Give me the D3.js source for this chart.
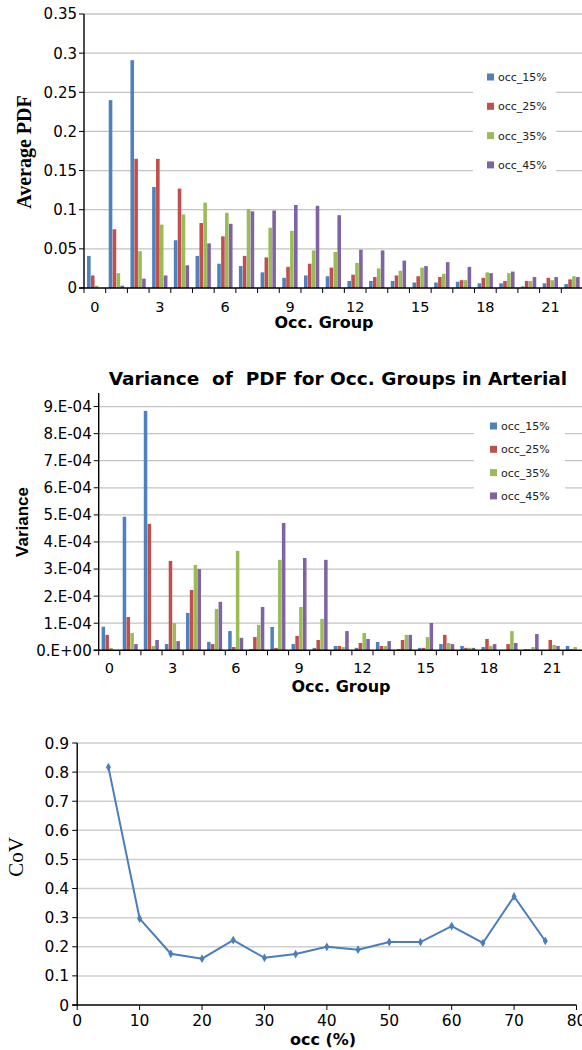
<!DOCTYPE html>
<html><head><meta charset="utf-8">
<script src="https://cdn.jsdelivr.net/npm/d3@7/dist/d3.min.js"></script>
<style>body{margin:0;background:#fff}svg{display:block}</style>
</head><body>
<svg id="c" width="582" height="1050"></svg>
<script>
// ---------- DATA ----------
const categories = [0,1,2,3,4,5,6,7,8,9,10,11,12,13,14,15,16,17,18,19,20,21,22];
const xTickCats = [0,3,6,9,12,15,18,21];
const seriesNames = ["occ_15%","occ_25%","occ_35%","occ_45%"];
const seriesColors = ["#4f81bd","#c0504d","#9bbb59","#8064a2"];

// Chart 1: Average PDF
const pdf15 = [0.041,0.240,0.291,0.129,0.061,0.041,0.031,0.028,0.020,0.013,0.016,0.015,0.009,0.009,0.009,0.007,0.007,0.008,0.006,0.006,0.002,0.006,0.005];
const pdf25 = [0.016,0.075,0.165,0.165,0.127,0.083,0.066,0.041,0.039,0.027,0.031,0.026,0.017,0.014,0.016,0.015,0.014,0.010,0.013,0.009,0.009,0.013,0.011];
const pdf35 = [0.003,0.019,0.047,0.081,0.094,0.109,0.096,0.101,0.077,0.073,0.048,0.046,0.032,0.025,0.022,0.026,0.018,0.010,0.020,0.019,0.009,0.010,0.015];
const pdf45 = [0.000,0.003,0.012,0.016,0.029,0.057,0.082,0.098,0.099,0.106,0.105,0.093,0.049,0.048,0.035,0.028,0.033,0.027,0.019,0.021,0.014,0.014,0.014];
const pdfTicks = [0,0.05,0.1,0.15,0.2,0.25,0.3,0.35];
const pdfTickLabels = ["0","0.05","0.1","0.15","0.2","0.25","0.3","0.35"];

// Chart 2: Variance of PDF
const var15 = [0.87e-4,4.93e-4,8.84e-4,0.23e-4,1.38e-4,0.31e-4,0.71e-4,0.05e-4,0.86e-4,0.23e-4,0.09e-4,0.16e-4,0.09e-4,0.31e-4,0.05e-4,0.09e-4,0.23e-4,0.16e-4,0.12e-4,0.00e-4,0.04e-4,0.00e-4,0.16e-4];
const var25 = [0.57e-4,1.23e-4,4.67e-4,3.30e-4,2.23e-4,0.23e-4,0.12e-4,0.49e-4,0.09e-4,0.53e-4,0.38e-4,0.16e-4,0.27e-4,0.16e-4,0.38e-4,0.09e-4,0.57e-4,0.09e-4,0.42e-4,0.23e-4,0.04e-4,0.38e-4,0.05e-4];
const var35 = [0.09e-4,0.64e-4,0.16e-4,1.00e-4,3.15e-4,1.53e-4,3.67e-4,0.94e-4,3.34e-4,1.60e-4,1.16e-4,0.12e-4,0.64e-4,0.16e-4,0.57e-4,0.49e-4,0.27e-4,0.09e-4,0.16e-4,0.71e-4,0.12e-4,0.20e-4,0.12e-4];
const var45 = [0.00e-4,0.23e-4,0.38e-4,0.34e-4,3.00e-4,1.79e-4,0.46e-4,1.60e-4,4.70e-4,3.41e-4,3.34e-4,0.71e-4,0.42e-4,0.34e-4,0.57e-4,1.01e-4,0.23e-4,0.09e-4,0.23e-4,0.27e-4,0.60e-4,0.16e-4,0.00e-4];
const varTicks = [0,1e-4,2e-4,3e-4,4e-4,5e-4,6e-4,7e-4,8e-4,9e-4];
const varTickLabels = ["0.E+00","1.E-04","2.E-04","3.E-04","4.E-04","5.E-04","6.E-04","7.E-04","8.E-04","9.E-04"];

// Chart 3: CoV
const occ = [5,10,15,20,25,30,35,40,45,50,55,60,65,70,75];
const cov = [0.817,0.297,0.176,0.159,0.223,0.162,0.175,0.200,0.190,0.216,0.216,0.271,0.213,0.373,0.220];
const covTicks = [0,0.1,0.2,0.3,0.4,0.5,0.6,0.7,0.8,0.9];
const covTickLabels = ["0","0.1","0.2","0.3","0.4","0.5","0.6","0.7","0.8","0.9"];
const occTicks = [0,10,20,30,40,50,60,70,80];

// ---------- DRAW ----------
const svg = d3.select("#c");
const GRID = "#c4c4c4";
const TICKFONT = "'DejaVu Sans', Verdana, sans-serif";

function barChart(o) {
  const g = svg.append("g");
  const y = d3.scaleLinear().domain(o.yDomain).range([o.bottom, o.top]);
  const x0 = d3.scaleBand().domain(categories).range([o.left, o.right]).padding(0);
  const x1 = d3.scaleBand().domain(seriesNames).range([0, x0.bandwidth()]).paddingInner(0).paddingOuter(o.barPad);
  g.append("g").selectAll("line").data(o.ticks.filter(t => t > 0)).join("line")
    .attr("x1", o.left).attr("x2", o.right).attr("y1", d => y(d)).attr("y2", d => y(d))
    .attr("stroke", GRID).attr("stroke-width", 1.3);
  g.append("rect").attr("x", o.legend.x).attr("y", o.legend.y).attr("width", o.legend.w).attr("height", o.legend.h).attr("fill", "#fff");
  const data = o.series;
  seriesNames.forEach((s, si) => {
    g.append("g").selectAll("rect").data(categories).join("rect")
      .attr("x", c => x0(c) + x1(s))
      .attr("width", x1.bandwidth() - 0.3)
      .attr("y", c => y(data[si][c]))
      .attr("height", c => y(0) - y(data[si][c]))
      .attr("fill", seriesColors[si]);
  });
  g.append("line").attr("x1", o.left).attr("x2", o.left).attr("y1", y(o.yDomain[1])).attr("y2", y(0)).attr("stroke", "#000").attr("stroke-width", 1.4);
  g.append("line").attr("x1", o.left - 5).attr("x2", o.right).attr("y1", y(0)).attr("y2", y(0)).attr("stroke", "#000").attr("stroke-width", 1.4);
  g.append("g").selectAll("line").data(o.ticks).join("line")
    .attr("x1", o.left - 5).attr("x2", o.left).attr("y1", d => y(d)).attr("y2", d => y(d)).attr("stroke", "#000");
  g.append("g").selectAll("text").data(o.ticks).join("text")
    .attr("x", o.left - 7).attr("y", d => y(d)).attr("dy", "0.36em")
    .attr("text-anchor", "end").attr("font-family", TICKFONT).attr("font-size", o.yFont)
    .attr("fill", "#000").text((d, i) => o.tickLabels[i]);
  g.append("g").selectAll("line").data(categories).join("line")
    .attr("x1", c => x0(c)).attr("x2", c => x0(c)).attr("y1", y(0)).attr("y2", y(0) + 5).attr("stroke", "#000");
  g.append("g").selectAll("text").data(xTickCats).join("text")
    .attr("x", c => x0(c) + x0.bandwidth() / 2).attr("y", o.xLabelY)
    .attr("text-anchor", "middle").attr("font-family", TICKFONT).attr("font-size", 14.5)
    .attr("fill", "#000").text(c => c);
  g.append("text").attr("x", o.xTitleX).attr("y", o.xTitleY).attr("text-anchor", "middle")
    .attr("font-family", TICKFONT).attr("font-weight", "bold").attr("font-size", 16).text("Occ. Group");
  g.append("text").attr("transform", `translate(${o.yTitle.x},${o.yTitle.y}) rotate(-90)`)
    .attr("text-anchor", "middle").attr("font-family", o.yTitle.font).attr("font-weight", "bold")
    .attr("font-size", o.yTitle.size).text(o.yTitle.text);
  const lg = g.append("g");
  seriesNames.forEach((s, i) => {
    const cy = o.legend.y0 + i * o.legend.step;
    lg.append("rect").attr("x", o.legend.sx).attr("y", cy - 3.5).attr("width", 7).attr("height", 7).attr("fill", seriesColors[i]);
    lg.append("text").attr("x", o.legend.sx + 11).attr("y", cy).attr("dy", "0.36em")
      .attr("font-family", TICKFONT).attr("font-size", 11).attr("fill", "#222").text(s);
  });
  return g;
}

barChart({
  left: 84, right: 583, top: 14, bottom: 288, yDomain: [0, 0.35],
  ticks: pdfTicks, tickLabels: pdfTickLabels, yFont: 15, barPad: 0.78,
  series: [pdf15, pdf25, pdf35, pdf45],
  xLabelY: 312, xTitleX: 324, xTitleY: 328,
  yTitle: { x: 31, y: 152, text: "Average PDF", font: "'Liberation Serif', 'Times New Roman', serif", size: 20 },
  legend: { x: 473, y: 60, w: 83, h: 118, sx: 487, y0: 77, step: 29.3 }
});

barChart({
  left: 98.7, right: 584, top: 393, bottom: 650.3, yDomain: [0, 9.5e-4],
  ticks: varTicks, tickLabels: varTickLabels, yFont: 15, barPad: 0.75,
  series: [var15, var25, var35, var45],
  xLabelY: 673, xTitleX: 341, xTitleY: 692,
  yTitle: { x: 28, y: 522, text: "Variance", font: "'Liberation Sans Narrow', 'Arial Narrow', 'Liberation Sans', sans-serif", size: 17 },
  legend: { x: 474, y: 410, w: 91, h: 96, sx: 490, y0: 426, step: 23.3 }
});

svg.append("text").attr("x", 338).attr("y", 385).attr("text-anchor", "middle")
  .attr("font-family", TICKFONT).attr("font-weight", "bold").attr("font-size", 18.5)
  .style("white-space", "pre").text("Variance  of  PDF for Occ. Groups in Arterial");

// ---------- Chart 3: line ----------
(function () {
  const g = svg.append("g");
  const x = d3.scaleLinear().domain([0, 80]).range([77.2, 576.5]);
  const y = d3.scaleLinear().domain([0, 0.9]).range([1005, 743]);
  g.append("g").selectAll("line").data(covTicks.filter(t => t > 0)).join("line")
    .attr("x1", x(0)).attr("x2", 582).attr("y1", d => y(d)).attr("y2", d => y(d))
    .attr("stroke", "#cfcfcf").attr("stroke-width", 1.5);
  g.append("line").attr("x1", x(0)).attr("x2", x(0)).attr("y1", y(0.9)).attr("y2", y(0)).attr("stroke", "#000").attr("stroke-width", 1.4);
  g.append("line").attr("x1", x(0) - 5).attr("x2", x(80)).attr("y1", y(0)).attr("y2", y(0)).attr("stroke", "#000").attr("stroke-width", 1.4);
  g.append("g").selectAll("line").data(covTicks).join("line")
    .attr("x1", x(0) - 5).attr("x2", x(0)).attr("y1", d => y(d)).attr("y2", d => y(d)).attr("stroke", "#000");
  g.append("g").selectAll("text").data(covTicks).join("text")
    .attr("x", x(0) - 8).attr("y", d => y(d)).attr("dy", "0.36em").attr("text-anchor", "end")
    .attr("font-family", TICKFONT).attr("font-size", 15.5).text((d, i) => covTickLabels[i]);
  g.append("g").selectAll("line").data(occTicks).join("line")
    .attr("x1", d => x(d)).attr("x2", d => x(d)).attr("y1", y(0)).attr("y2", y(0) + 5).attr("stroke", "#000");
  g.append("g").selectAll("text").data(occTicks).join("text")
    .attr("x", d => x(d)).attr("y", 1026).attr("text-anchor", "middle")
    .attr("font-family", TICKFONT).attr("font-size", 15.5).text(d => d);
  const line = d3.line().x((d, i) => x(occ[i])).y(d => y(d));
  g.append("path").datum(cov).attr("d", line).attr("fill", "none").attr("stroke", "#4a7ebb").attr("stroke-width", 2);
  g.append("g").selectAll("path").data(cov).join("path")
    .attr("transform", (d, i) => `translate(${x(occ[i])},${y(d)})`)
    .attr("d", d3.symbol(d3.symbolDiamond).size(22)).attr("fill", "#4a7ebb");
  g.append("text").attr("x", 323).attr("y", 1045).attr("text-anchor", "middle")
    .attr("font-family", TICKFONT).attr("font-weight", "bold").attr("font-size", 16).text("occ (%)");
  g.append("text").attr("transform", "translate(23,857) rotate(-90)").attr("text-anchor", "middle")
    .attr("font-family", "'Liberation Serif', 'Times New Roman', serif").attr("font-size", 21).text("CoV");
})();
</script>
</body></html>
